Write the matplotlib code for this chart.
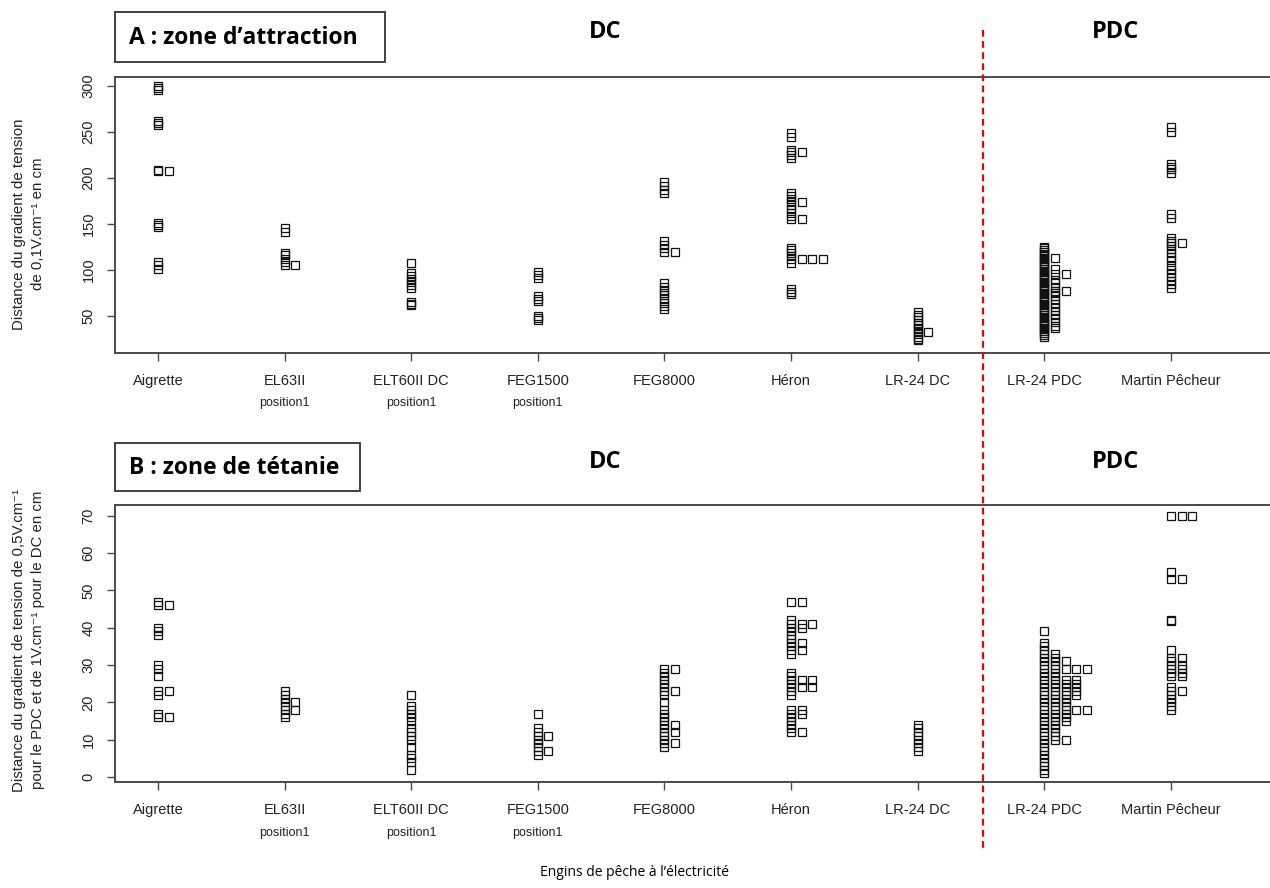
import matplotlib
matplotlib.use("Agg")
import matplotlib.pyplot as plt
from matplotlib.lines import Line2D
from matplotlib.patches import Rectangle

plt.rcParams['font.family'] = ['Liberation Sans', 'DejaVu Sans']

categories = ["Aigrette", "EL63II", "ELT60II DC", "FEG1500", "FEG8000",
              "Héron", "LR-24 DC", "LR-24 PDC", "Martin Pêcheur"]
sublabels = ["", "position1", "position1", "position1", "", "", "", "", ""]

# Panel A : zone d'attraction (cm)
a_aigrette = [300, 297, 295, 262, 259, 257, 208, 207, 207, 151, 148, 146, 108, 105, 101]
a_el63 = [145, 141, 118, 116, 112, 108, 105, 105]
a_elt60 = [107, 96, 93, 90, 86, 83, 80, 65, 63, 62]
a_feg1500 = [97, 94, 91, 71, 68, 66, 50, 47, 45]
a_feg8000 = [195, 191, 187, 183, 131, 127, 123, 119, 119, 85, 81, 78, 75, 72, 68, 64, 60, 57]
a_heron = [249, 244, 230, 228, 228, 225, 221, 183, 180, 177, 174, 174, 170, 166, 162,
           158, 155, 155, 124, 121, 118, 115, 112, 112, 112, 112, 107, 79, 76, 73]
a_lr24dc = [54, 51, 48, 45, 42, 40, 37, 35, 32, 32, 30, 27, 25, 23]
a_lr24pdc = [125, 123, 121, 119, 117, 115, 113, 111, 109, 107, 105, 103, 101, 99, 97,
             95, 93, 91, 89, 87, 85, 83, 81, 79, 77, 75, 73, 71, 69, 67, 65, 63, 61,
             59, 57, 55, 53, 51, 49, 47, 45, 43, 41, 39, 37, 35, 33, 31, 29, 27,
             113, 101, 95, 89, 85, 81, 77, 75, 71, 67, 63, 59, 55, 51, 47, 43, 39, 37,
             95, 77]
a_martin = [255, 250, 215, 212, 209, 205, 160, 156, 134, 131, 129, 129, 126, 122,
            118, 114, 110, 104, 100, 96, 92, 88, 84, 80]

# Panel B : zone de tétanie (cm)
b_aigrette = [47, 46, 46, 40, 39, 38, 30, 29, 27, 23, 23, 22, 17, 16, 16]
b_el63 = [23, 22, 21, 20, 20, 19, 18, 18, 17, 16]
b_elt60 = [22, 19, 18, 17, 16, 15, 13, 12, 11, 10, 8, 6, 5, 4, 2]
b_feg1500 = [17, 13, 12, 11, 11, 10, 9, 8, 7, 7, 6]
b_feg8000 = [29, 28, 27, 26, 25, 24, 23, 22, 20, 18, 17, 16, 15, 14, 13, 12, 11, 10, 9, 8,
             29, 23, 14, 12, 9]
b_heron = [47, 47, 42, 41, 41, 41, 40, 40, 39, 38, 37, 36, 36, 35, 34, 34, 33,
           28, 27, 26, 26, 26, 25, 24, 24, 24, 23, 22,
           18, 18, 17, 17, 16, 15, 14, 13, 12, 12]
b_lr24dc = [14, 13, 12, 11, 10, 9, 8, 7]
b_lr24pdc = [39, 36, 35, 34, 33, 32, 31, 30, 29, 28, 27, 26, 25, 24, 23, 22, 21, 20, 19,
             18, 17, 16, 15, 14, 13, 12, 11, 10, 9, 8, 7, 6, 5, 4, 3, 2, 1,
             33, 32, 31, 30, 29, 28, 27, 26, 25, 24, 23, 22, 21, 20, 19, 18, 17, 16,
             15, 14, 13, 12, 11, 10,
             31, 29, 26, 25, 24, 23, 22, 21, 20, 19, 18, 17, 16, 15, 10,
             29, 26, 25, 24, 23, 22, 18,
             29, 18]
b_martin = [70, 70, 70, 55, 53, 53, 42, 41.7, 34, 32, 32, 31, 30, 30, 29, 29, 28, 28,
            27, 27, 24, 23, 23, 22, 21, 20, 19, 18]

panel_a = [a_aigrette, a_el63, a_elt60, a_feg1500, a_feg8000, a_heron, a_lr24dc, a_lr24pdc, a_martin]
panel_b = [b_aigrette, b_el63, b_elt60, b_feg1500, b_feg8000, b_heron, b_lr24dc, b_lr24pdc, b_martin]

W, H = 1270, 888
fig = plt.figure(figsize=(W / 100, H / 100), dpi=100)

STACK = 0.084
XLIM = (0.66, 9.783)
SPINE = '#4a4a4a'


def fx(px):
    return px / W


def fy(py):
    return 1 - py / H


def draw_panel(top_px, bot_px, groups, ylim, yticks, sub_y_off):
    ax = fig.add_axes([fx(115), fy(bot_px), 1 - fx(115), (bot_px - top_px) / H])
    for i, vals in enumerate(groups, start=1):
        seen = {}
        xs, ys = [], []
        for v in vals:
            k = seen.get(v, 0)
            seen[v] = k + 1
            xs.append(i + k * STACK)
            ys.append(v)
        ax.plot(xs, ys, linestyle='none', marker='s', markersize=6.3,
                markerfacecolor='none', markeredgecolor='#111111', markeredgewidth=0.9)
    ax.set_xlim(*XLIM)
    ax.set_ylim(*ylim)
    ax.set_xticks(range(1, len(categories) + 1))
    ax.set_xticklabels(categories, fontsize=10.5, color='#222222')
    ax.set_yticks(yticks)
    ax.set_yticklabels([str(t) for t in yticks], fontsize=10.5, rotation=90, va='center',
                       color='#222222')
    ax.spines['right'].set_visible(False)
    for s in ['left', 'top', 'bottom']:
        ax.spines[s].set_color(SPINE)
        ax.spines[s].set_linewidth(1.4)
    ax.tick_params(axis='both', length=6, width=1.0, color=SPINE)
    ax.tick_params(axis='y', pad=8)
    ax.tick_params(axis='x', pad=9)
    for i, sl in enumerate(sublabels, start=1):
        if sl:
            ax.annotate(sl, xy=(i, 0), xycoords=('data', 'axes fraction'),
                        xytext=(0, sub_y_off), textcoords='offset points',
                        ha='center', va='center', fontsize=9, color='#222222')
    return ax


ax_a = draw_panel(77, 353, panel_a, (9.3, 309.5), [50, 100, 150, 200, 250, 300], -36)
ax_b = draw_panel(505, 782, panel_b, (-1.34, 72.9), [0, 10, 20, 30, 40, 50, 60, 70], -37)

# Title boxes
for (x0, y0, x1, y1, txt) in [(115, 12, 385, 62, "A : zone d\u2019attraction"),
                              (115, 443, 360, 491, "B : zone de t\u00e9tanie")]:
    fig.patches.append(Rectangle((fx(x0), fy(y1)), fx(x1 - x0), (y1 - y0) / H,
                                 transform=fig.transFigure, fill=False,
                                 edgecolor='#333333', linewidth=1.3))
    fig.text(fx(x0 + 14), fy((y0 + y1) / 2 + 1), txt, ha='left', va='center',
             fontsize=16.5, fontweight='bold', family=['Open Sans', 'DejaVu Sans'])

for y in (32, 462):
    fig.text(fx(605), fy(y), "DC", ha='center', va='center', fontsize=17,
             fontweight='bold', family=['Open Sans', 'DejaVu Sans'])
    fig.text(fx(1116), fy(y), "PDC", ha='center', va='center', fontsize=17,
             fontweight='bold', family=['Open Sans', 'DejaVu Sans'])

# Y labels
fig.text(fx(19), fy(224), "Distance du gradient de tension", rotation=90,
         ha='center', va='center', fontsize=10.8, color='#222222')
fig.text(fx(38), fy(224), "de 0,1V.cm\u207b\u00b9 en cm", rotation=90,
         ha='center', va='center', fontsize=10.8, color='#222222')
fig.text(fx(19), fy(640), "Distance du gradient de tension de 0,5V.cm\u207b\u00b9", rotation=90,
         ha='center', va='center', fontsize=10.8, color='#222222')
fig.text(fx(38), fy(640), "pour le PDC et de 1V.cm\u207b\u00b9 pour le DC en cm", rotation=90,
         ha='center', va='center', fontsize=10.8, color='#222222')

# Red dashed separator
fig.lines.append(Line2D([fx(983), fx(983)], [fy(30), fy(850)], transform=fig.transFigure,
                        color='#e8000b', linestyle=(0, (3, 2)), linewidth=1.6))

fig.text(fx(635), fy(872), "Engins de p\u00eache \u00e0 l\u2019\u00e9lectricit\u00e9",
         ha='center', va='center', fontsize=10, family=['Open Sans', 'DejaVu Sans'])

fig.savefig("out.png", dpi=100)
